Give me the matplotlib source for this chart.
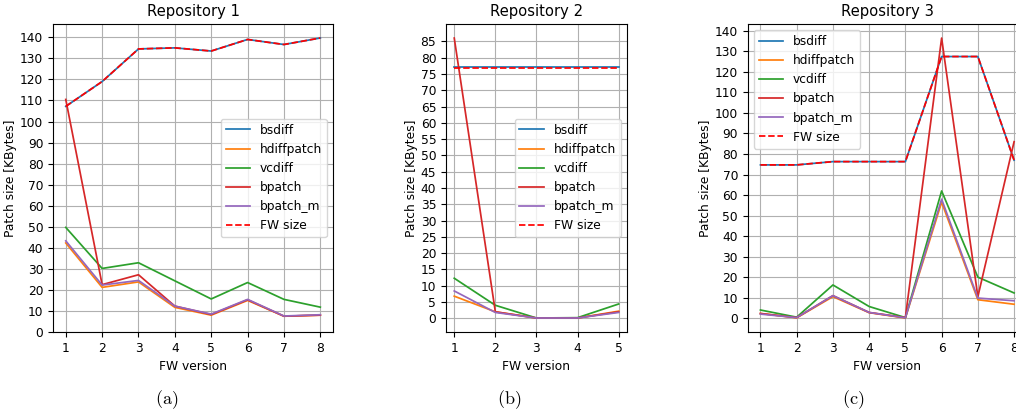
import matplotlib
matplotlib.use('Agg')
import matplotlib.pyplot as plt

# Repository 1 (FW versions 1..8)
versions_1 = [1, 2, 3, 4, 5, 6, 7, 8]
bsdiff_1 = [107.2, 119.0, 134.5, 135.0, 133.5, 139.0, 136.6, 139.7]
hdiffpatch_1 = [42.3, 21.2, 23.8, 11.7, 8.0, 15.0, 7.5, 8.0]
vcdiff_1 = [49.7, 30.2, 32.9, 24.3, 15.7, 23.5, 15.5, 11.8]
bpatch_1 = [110.5, 22.5, 27.2, 12.3, 8.3, 15.3, 7.5, 8.0]
bpatch_m_1 = [43.3, 22.3, 24.5, 12.3, 8.5, 15.5, 7.6, 8.2]
fw_size_1 = [107.2, 119.0, 134.5, 135.0, 133.5, 139.0, 136.6, 139.7]
yticks_1 = list(range(0, 141, 10))

# Repository 2 (FW versions 1..5)
versions_2 = [1, 2, 3, 4, 5]
bsdiff_2 = [77.1, 77.1, 77.1, 77.1, 77.1]
hdiffpatch_2 = [6.8, 2.0, 0.1, 0.1, 2.2]
vcdiff_2 = [12.3, 4.0, 0.1, 0.2, 4.4]
bpatch_2 = [86.0, 2.0, 0.1, 0.1, 2.0]
bpatch_m_2 = [8.4, 1.8, 0.1, 0.1, 1.8]
fw_size_2 = [76.9, 76.9, 76.9, 76.9, 76.9]
yticks_2 = list(range(0, 86, 5))

# Repository 3 (FW versions 1..8)
versions_3 = [1, 2, 3, 4, 5, 6, 7, 8]
bsdiff_3 = [74.7, 74.7, 76.3, 76.3, 76.3, 127.5, 127.5, 77.0]
hdiffpatch_3 = [2.3, 0.2, 10.5, 2.7, 0.1, 56.5, 9.0, 6.8]
vcdiff_3 = [4.0, 0.5, 16.2, 5.7, 0.3, 62.0, 20.0, 12.3]
bpatch_3 = [2.3, 0.3, 11.0, 2.8, 0.3, 136.5, 10.5, 86.0]
bpatch_m_3 = [2.0, 0.3, 11.0, 2.8, 0.2, 58.0, 9.8, 8.5]
fw_size_3 = [74.7, 74.7, 76.3, 76.3, 76.3, 127.5, 127.5, 77.0]
yticks_3 = list(range(0, 141, 10))

titles = ["Repository 1", "Repository 2", "Repository 3"]
sub_labels = ["(a)", "(b)", "(c)"]
names = ["bsdiff", "hdiffpatch", "vcdiff", "bpatch", "bpatch_m"]

plt.rcParams['font.size'] = 8.8
plt.rcParams['mathtext.fontset'] = 'cm'

fig = plt.figure(figsize=(10.16, 4.15), dpi=100)

panels = [
    ([0.0522, 0.2, 0.2756, 0.742], versions_1,
     [bsdiff_1, hdiffpatch_1, vcdiff_1, bpatch_1, bpatch_m_1], fw_size_1, yticks_1, 'center right'),
    ([0.439, 0.2, 0.178, 0.742], versions_2,
     [bsdiff_2, hdiffpatch_2, vcdiff_2, bpatch_2, bpatch_m_2], fw_size_2, yticks_2, 'center right'),
    ([0.736, 0.2, 0.2746, 0.742], versions_3,
     [bsdiff_3, hdiffpatch_3, vcdiff_3, bpatch_3, bpatch_m_3], fw_size_3, yticks_3, 'upper left'),
]

for i, (rect, x, series, fw, yt, loc) in enumerate(panels):
    ax = fig.add_axes(rect)
    for s, name in zip(series, names):
        ax.plot(x, s, label=name, lw=1.25)
    ax.plot(x, fw, 'r--', label="FW size", lw=1.25)
    ax.set_yticks(yt)
    ax.set_xticks(x)
    if i == 0:
        ax.set_ylim(bottom=0)
    ax.grid(True)
    ax.set_title(titles[i], fontsize=10.6)
    ax.set_xlabel("FW version")
    ax.set_ylabel("Patch size [KBytes]", labelpad=2)
    ax.legend(loc=loc)

# subfigure captions
for xpos, lab in zip([0.164, 0.501, 0.840], sub_labels):
    fig.text(xpos, 0.025, r"$\mathrm{" + lab + "}$", fontsize=13, ha='center')

plt.savefig('out.png', dpi=100)
